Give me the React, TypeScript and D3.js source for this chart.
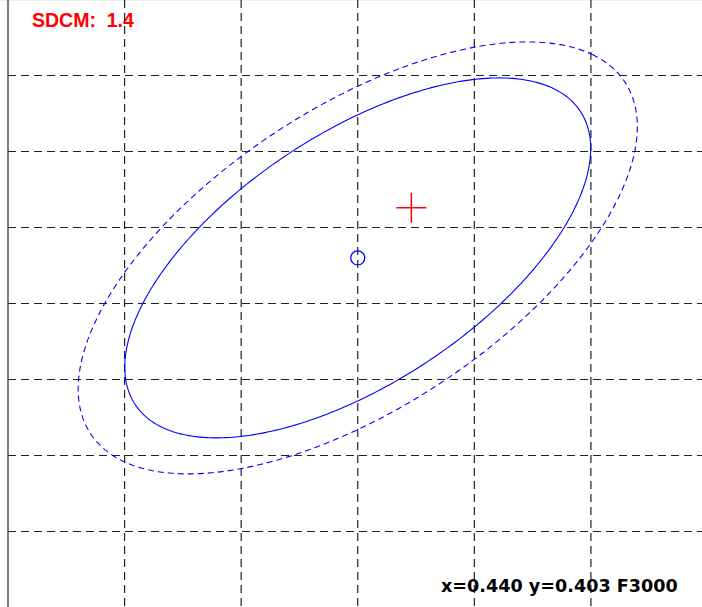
import React from 'react';
import * as d3 from 'd3';

// chromaticity window shown (CIE x, y)
const xDomain = [0.437, 0.443];
const yDomain = [0.399, 0.407];
const xGrid = [0.438, 0.439, 0.44, 0.441, 0.442];
const yGrid = [0.4, 0.401, 0.402, 0.403, 0.404, 0.405, 0.406];

// ellipse centre and measured point
const target = { x: 0.44, y: 0.4036 };
const measured = { x: 0.44046, y: 0.40426 };

// ellipses: semi axes in xy units, rotation in degrees
const ellipses = [
  { a: 0.00279, b: 0.001348, angle: 52.85, dashed: false },
  { a: 0.003348, b: 0.001618, angle: 52.85, dashed: true },
];

const title = 'SDCM:  1.4';
const footer = 'x=0.440 y=0.403 F3000';

const W = 702;
const H = 607;

export default function App() {
  const x = d3.scaleLinear().domain(xDomain).range([8, 707.5]);
  const y = d3.scaleLinear().domain(yDomain).range([607.5, -0.5]);

  const line = d3
    .line<[number, number]>()
    .x((d) => x(d[0]))
    .y((d) => y(d[1]))
    .curve(d3.curveLinearClosed);

  const ellipsePath = (e: { a: number; b: number; angle: number }) => {
    const th = (e.angle * Math.PI) / 180;
    const pts: [number, number][] = d3.range(0, 360, 1).map((deg) => {
      const t = (deg * Math.PI) / 180;
      const u = e.a * Math.cos(t);
      const v = e.b * Math.sin(t);
      return [
        target.x + u * Math.cos(th) - v * Math.sin(th),
        target.y + u * Math.sin(th) + v * Math.cos(th),
      ];
    });
    return line(pts) || '';
  };

  const cx = x(measured.x);
  const cy = y(measured.y);

  return (
    <svg
      width={W}
      height={H}
      style={{ position: 'absolute', left: 0, top: 0, background: '#fff' }}
    >
      <line x1={0} x2={W} y1={0.5} y2={0.5} stroke="#ececec" />
      {xGrid.map((v) => (
        <line
          key={'x' + v}
          x1={x(v)}
          x2={x(v)}
          y1={0}
          y2={H}
          stroke="#222"
          strokeWidth={1.2}
          strokeDasharray="8,5"
        />
      ))}
      {yGrid.map((v) => (
        <line
          key={'y' + v}
          x1={x(xDomain[0])}
          x2={W}
          y1={y(v)}
          y2={y(v)}
          stroke="#222"
          strokeWidth={1.2}
          strokeDasharray="8,5"
        />
      ))}
      <line
        x1={x(xDomain[0])}
        x2={x(xDomain[0])}
        y1={0}
        y2={H}
        stroke="#444"
        strokeWidth={1.4}
      />

      {ellipses.map((e, i) => (
        <path
          key={i}
          d={ellipsePath(e)}
          fill="none"
          stroke="#0000ff"
          strokeWidth={1.1}
          strokeDasharray={e.dashed ? '6,4' : undefined}
        />
      ))}

      <circle
        cx={x(target.x)}
        cy={y(target.y)}
        r={7}
        fill="none"
        stroke="#0000ff"
        strokeWidth={1.3}
      />

      <line x1={cx - 15} x2={cx + 15} y1={cy} y2={cy} stroke="#ff0000" strokeWidth={1.5} />
      <line x1={cx} x2={cx} y1={cy - 15} y2={cy + 15} stroke="#ff0000" strokeWidth={1.5} />

      <text
        x={32}
        y={26.5}
        fill="#ff0000"
        fontFamily="Liberation Sans, Arial, sans-serif"
        fontWeight="bold"
        fontSize={19.5}
        style={{ whiteSpace: 'pre' }}
      >
        {title}
      </text>
      <text
        x={441}
        y={592}
        textAnchor="start"
        fill="#000"
        fontFamily="DejaVu Sans"
        fontWeight="bold"
        fontSize={17.6}
      >
        {footer}
      </text>
    </svg>
  );
}
